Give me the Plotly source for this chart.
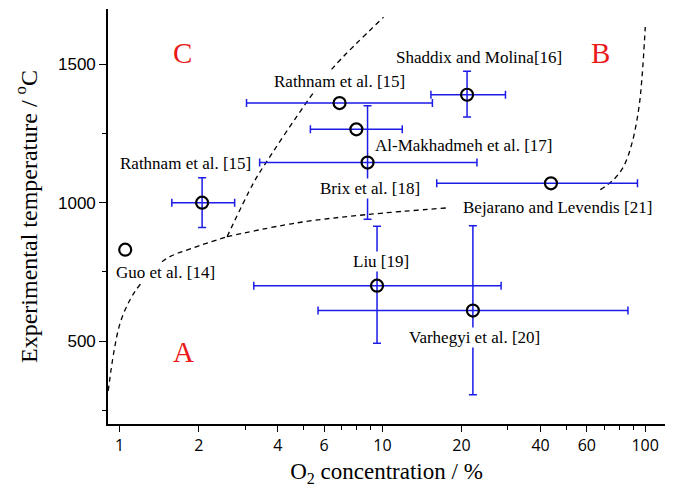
import math
import plotly.graph_objects as go

# Measured points: O2 concentration (%) and experimental temperature (°C)
studies = ["Guo et al. [14]", "Rathnam et al. [15]", "Rathnam et al. [15]",
           "Shaddix and Molina[16]", "Al-Makhadmeh et al. [17]", "Brix et al. [18]",
           "Liu [19]", "Varhegyi et al. [20]", "Bejarano and Levendis [21]"]
o2 = [1.05, 2.06, 6.87, 21.0, 7.96, 8.78, 9.54, 22.1, 43.8]
temp = [830, 1000, 1360, 1390, 1265, 1145, 700, 610, 1070]

# Ranges covered by each study (None = single value)
o2_low = [None, 1.58, 3.04, 15.3, 5.32, 3.41, 3.24, 5.69, 16.1]
o2_high = [None, 2.74, 15.5, 29.4, 11.9, 22.9, 28.3, 86.0, 93.5]
temp_low = [None, 910, None, 1310, None, 940, 492, 306, None]
temp_high = [None, 1090, None, 1475, None, 1350, 915, 917, None]

# Regime boundaries (dashed curves)
ac_curve_o2 = [0.905, 0.95, 1.006, 1.098, 1.199, 1.492, 1.912, 2.563]
ac_curve_t = [320, 459, 567, 651, 705, 795, 837, 877]
ac_line_o2 = [2.563, 3.23, 3.53, 5.32, 6.52, 10.1]
ac_line_t = [877, 1071, 1131, 1382, 1490, 1670]
ab_low_o2 = [2.563, 4.73, 8.74, 17.6]
ab_low_t = [877, 927, 957, 981]
ab_high_o2 = [67.5, 75.8, 82.8, 89.1, 94.4, 97.3, 100.1]
ab_high_t = [1047, 1083, 1131, 1215, 1335, 1454, 1635]

# Label anchors (O2 %, °C)
label_o2 = [1.492, 1.775, 6.84, 23.3, 20.5, 9.0, 9.84, 22.4, 46.3]
label_t = [747, 1143, 1439, 1526, 1208, 1053, 789, 511, 981]
regions = ["A", "B", "C"]
region_o2 = [1.743, 67.9, 1.737]
region_t = [459, 1541, 1540]

x_ticks = [1, 2, 4, 6, 10, 20, 40, 60, 100]
x_minor = [3, 5, 7, 8, 9, 30, 50, 70, 80, 90]
y_ticks = [500, 1000, 1500]
y_minor = [250, 750, 1250]

BLUE = "#1c1ce8"
RED = "#ea1a1a"
SERIF = "Liberation Serif, Times New Roman, serif"

fig = go.Figure()

for xs, ys in [(ac_curve_o2, ac_curve_t), (ac_line_o2, ac_line_t),
               (ab_low_o2, ab_low_t), (ab_high_o2, ab_high_t)]:
    fig.add_trace(go.Scatter(
        x=xs, y=ys, mode="lines", line=dict(color="black", width=1.3, dash="5px,4px", shape="spline"),
        hoverinfo="skip", showlegend=False))

# Horizontal range bars (O2 spread) for studies that report one
ix = [i for i, v in enumerate(o2_low) if v is not None]
fig.add_trace(go.Scatter(
    x=[o2[i] for i in ix], y=[temp[i] for i in ix], mode="markers",
    marker=dict(size=1, opacity=0), hoverinfo="skip", showlegend=False,
    error_x=dict(type="data", symmetric=False,
                 array=[o2_high[i] - o2[i] for i in ix],
                 arrayminus=[o2[i] - o2_low[i] for i in ix],
                 color=BLUE, thickness=1.5, width=4),
))

# Vertical range bars (temperature spread)
iy = [i for i, v in enumerate(temp_low) if v is not None]
fig.add_trace(go.Scatter(
    x=[o2[i] for i in iy], y=[temp[i] for i in iy], mode="markers",
    marker=dict(size=1, opacity=0), hoverinfo="skip", showlegend=False,
    error_y=dict(type="data", symmetric=False,
                 array=[temp_high[i] - temp[i] for i in iy],
                 arrayminus=[temp[i] - temp_low[i] for i in iy],
                 color=BLUE, thickness=1.5, width=4),
))

fig.add_trace(go.Scatter(
    x=o2, y=temp, mode="markers", text=studies, showlegend=False,
    marker=dict(symbol="circle-open", size=12, color="black", line=dict(width=2.2, color="black")),
))

for name, lx, ly in zip(studies, label_o2, label_t):
    fig.add_annotation(x=math.log10(lx), y=ly, text=name, showarrow=False,
                       font=dict(family=SERIF, size=17, color="black"),
                       bgcolor="white", borderpad=0)

for name, lx, ly in zip(regions, region_o2, region_t):
    fig.add_annotation(x=math.log10(lx), y=ly, text=name, showarrow=False,
                       font=dict(family=SERIF, size=29, color=RED))

fig.update_xaxes(
    type="log", range=[math.log10(0.903), math.log10(119)],
    tickvals=x_ticks, ticktext=[str(v) for v in x_ticks],
    ticks="outside", ticklen=6, tickwidth=1.3, tickcolor="black",
    minor=dict(tickvals=x_minor, ticks="outside", ticklen=4, tickwidth=1.3, tickcolor="black"),
    showline=True, linecolor="black", linewidth=1.6, showgrid=False, zeroline=False,
    tickfont=dict(family="Open Sans, sans-serif", size=16, color="black"),
    title=dict(text="O<sub>2</sub> concentration / %", font=dict(family=SERIF, size=23, color="black"),
               standoff=8),
)
fig.update_yaxes(
    range=[200, 1700], tickvals=y_ticks,
    ticks="outside", ticklen=7, tickwidth=1.3, tickcolor="black",
    minor=dict(tickvals=y_minor, ticks="outside", ticklen=4, tickwidth=1.3, tickcolor="black"),
    showline=True, linecolor="black", linewidth=1.6, showgrid=False, zeroline=False,
    tickfont=dict(family="Liberation Sans, Arial, sans-serif", size=17, color="black"),
    title=dict(text="Experimental temperature / <sup>o</sup>C", font=dict(family=SERIF, size=24, color="black"),
               standoff=14),
)

fig.update_layout(
    width=675, height=489,
    margin=dict(l=108, r=10, t=9, b=63),
    paper_bgcolor="white", plot_bgcolor="white",
)

fig.write_html("out.html")
